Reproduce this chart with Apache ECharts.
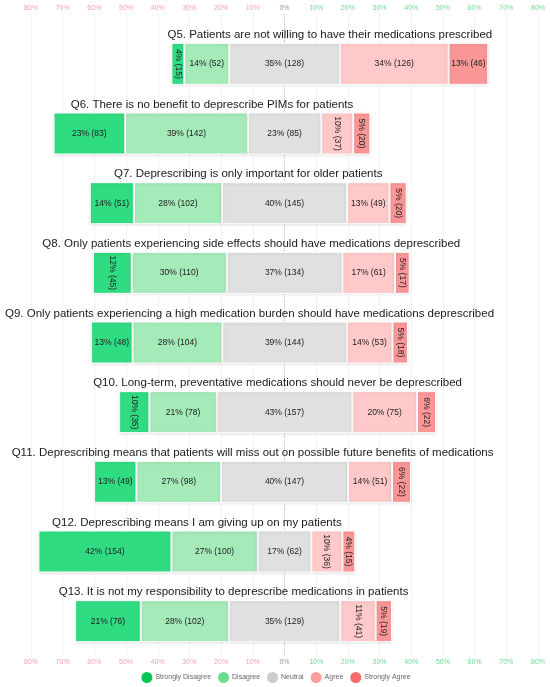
<!DOCTYPE html>
<html>
<head>
<meta charset="utf-8">
<script src="https://cdn.jsdelivr.net/npm/echarts@6/dist/echarts.min.js"></script>
<style>
  html, body { margin: 0; padding: 0; background: #fff; }
  #box { width: 550px; height: 687px; }
</style>
</head>
<body>
<div id="box"></div>
<script>
// survey answers, counts per question (n = 367)
var questions = [
  'Q5. Patients are not willing to have their medications prescribed',
  'Q6. There is no benefit to deprescribe PIMs for patients',
  'Q7. Deprescribing is only important for older patients',
  'Q8. Only patients experiencing side effects should have medications deprescribed',
  'Q9. Only patients experiencing a high medication burden should have medications deprescribed',
  'Q10. Long-term, preventative medications should never be deprescribed',
  'Q11. Deprescribing means that patients will miss out on possible future benefits of medications',
  'Q12. Deprescribing means I am giving up on my patients',
  'Q13. It is not my responsibility to deprescribe medications in patients'
]
var stronglyDisagree = [15, 83, 51, 45, 48, 35, 49, 154, 76]
var disagree = [52, 142, 102, 110, 104, 78, 98, 100, 102]
var neutral = [128, 85, 145, 134, 144, 157, 147, 62, 129]
var agree = [126, 37, 49, 61, 53, 75, 51, 36, 41]
var stronglyAgree = [46, 20, 20, 17, 18, 22, 22, 15, 19]

var levels = ['Strongly Disagree', 'Disagree', 'Neutral', 'Agree', 'Strongly Agree']
var counts = [stronglyDisagree, disagree, neutral, agree, stronglyAgree]
var barColors = ['#30dc82', '#a5eab9', '#e0e0e0', '#ffc9c9', '#fa9696']
var legendColors = ['#00c853', '#6ade8e', '#cccccc', '#ff9e9e', '#f76a6a']

var totals = questions.map(function (q, i) {
  return counts.reduce(function (s, arr) { return s + arr[i] }, 0)
})
var pct = counts.map(function (arr) {
  return arr.map(function (v, i) { return v / totals[i] * 100 })
})
// left edge of each bar so that neutral is centred on 0
var offsets = questions.map(function (q, i) {
  return -(pct[0][i] + pct[1][i] + pct[2][i] / 2)
})

var gridColors = []
for (var t = -80; t <= 80; t += 10) gridColors.push(t === 0 ? '#bdbdbd' : '#e6e6e6')

function tickColor(value) {
  if (value < 0) return '#f5a3ab'
  if (value > 0) return '#6fdc95'
  return '#9a9a9a'
}

var font = 'Liberation Sans, Arial, sans-serif'

var series = [{
  type: 'bar',
  xAxisIndex: 1,
  yAxisIndex: 1,
  stack: 'total',
  stackStrategy: 'all',
  barWidth: 42,
  silent: true,
  itemStyle: { color: 'transparent' },
  data: offsets
}]

levels.forEach(function (name, k) {
  series.push({
    name: name,
    type: 'bar',
    xAxisIndex: 1,
    yAxisIndex: 1,
    stack: 'total',
    stackStrategy: 'all',
    barWidth: 42,
    itemStyle: {
      color: barColors[k],
      borderColor: '#fff',
      borderWidth: 1,
      shadowColor: 'rgba(0,0,0,0.12)',
      shadowBlur: 3,
      shadowOffsetY: 1
    },
    label: {
      show: true,
      position: 'inside',
      fontSize: 8.5,
      fontFamily: font,
      color: '#222',
      formatter: function (p) {
        return Math.round(pct[k][p.dataIndex]) + '% (' + counts[k][p.dataIndex] + ')'
      }
    },
    data: pct[k].map(function (v) {
      return { value: v, label: { rotate: v < 12.5 ? -90 : 0 } }
    })
  })
})

// question titles centred above each bar
series.push({
  type: 'custom',
  xAxisIndex: 1,
  yAxisIndex: 1,
  silent: true,
  clip: false,
  encode: { x: [0, 1], y: 2 },
  data: questions.map(function (q, i) { return [offsets[i], offsets[i] + 100, i] }),
  renderItem: function (params, api) {
    var p0 = api.coord([api.value(0), api.value(2)])
    var p1 = api.coord([api.value(1), api.value(2)])
    return {
      type: 'text',
      x: (p0[0] + p1[0]) / 2,
      y: p0[1] - 29,
      style: {
        text: questions[params.dataIndex],
        fill: '#1a1a1a',
        fontSize: 11.5,
        fontFamily: font,
        align: 'center',
        verticalAlign: 'middle'
      }
    }
  }
})

var Chart = echarts.init(document.getElementById('box'))
var option = {
  animation: false,
  legend: {
    top: 665,
    icon: 'circle',
    itemWidth: 13,
    itemHeight: 13,
    itemGap: 5,
    textStyle: { fontSize: 7, color: '#666', fontFamily: font, padding: [0, 0, 0, -3] },
    data: levels.map(function (name, k) {
      return { name: name, itemStyle: { color: legendColors[k] } }
    })
  },
  grid: [
    { left: 31, right: 12, top: 14, bottom: 31 },
    { left: 31, right: 12, top: 29, bottom: 31 }
  ],
  xAxis: [{
    gridIndex: 0,
    type: 'value',
    position: 'top',
    min: -80,
    max: 80,
    interval: 10,
    axisLine: { show: false },
    axisTick: { show: false },
    axisLabel: {
      margin: 2,
      fontSize: 7,
      fontFamily: font,
      color: tickColor,
      formatter: function (v) { return Math.abs(v) + '%' }
    },
    splitLine: { show: true, lineStyle: { color: gridColors, type: 'dotted' } }
  }, {
    gridIndex: 1,
    type: 'value',
    min: -80,
    max: 80,
    interval: 10,
    axisLine: { show: false },
    axisTick: { show: false },
    axisLabel: { show: false },
    splitLine: { show: false }
  }, {
    gridIndex: 0,
    type: 'value',
    position: 'bottom',
    min: -80,
    max: 80,
    interval: 10,
    axisLine: { show: false },
    axisTick: { show: false },
    axisLabel: {
      margin: 3,
      fontSize: 7,
      fontFamily: font,
      color: tickColor,
      formatter: function (v) { return Math.abs(v) + '%' }
    },
    splitLine: { show: false }
  }],
  yAxis: [{
    gridIndex: 0,
    type: 'value',
    show: false
  }, {
    gridIndex: 1,
    type: 'category',
    inverse: true,
    data: questions,
    show: false
  }],
  series: series
}
Chart.setOption(option)
</script>
</body>
</html>
